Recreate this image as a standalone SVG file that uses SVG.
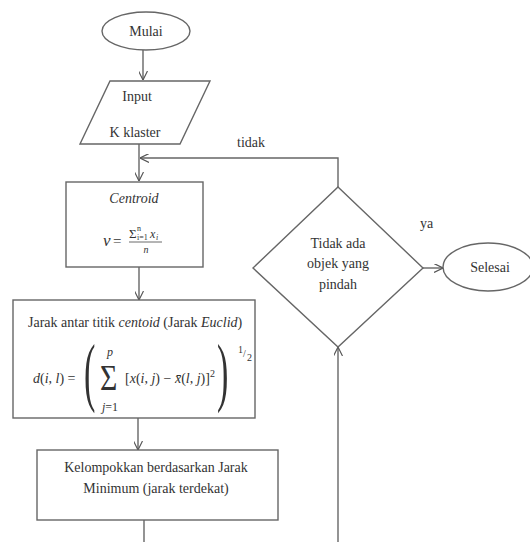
<svg xmlns="http://www.w3.org/2000/svg" width="530" height="542" viewBox="0 0 530 542">
<defs>
<marker id="arr" viewBox="0 0 10 10" refX="10" refY="5" markerWidth="9" markerHeight="9" orient="auto" markerUnits="userSpaceOnUse">
<path d="M0,0 L10,5 L0,10" fill="none" stroke="#555" stroke-width="1.3"/>
</marker>
<style>
.s{fill:#fff;stroke:#666;stroke-width:1.4}
.c{fill:none;stroke:#666;stroke-width:1.4}
.m{text-anchor:middle}
.i{font-style:italic}
</style>
</defs>
<rect width="530" height="542" fill="#fff"/>
<g font-family="'Liberation Serif', Tinos, 'Times New Roman', 'DejaVu Serif', serif" fill="#333">
<g id="connectors">
<line class="c" x1="143" y1="50" x2="143" y2="80" marker-end="url(#arr)"/>
<line class="c" x1="139" y1="144" x2="139" y2="181" marker-end="url(#arr)"/>
<line class="c" x1="139" y1="267" x2="139" y2="300" marker-end="url(#arr)"/>
<line class="c" x1="138" y1="418" x2="138" y2="450" marker-end="url(#arr)"/>
<line class="c" x1="144" y1="520" x2="144" y2="542"/>
<polyline class="c" points="338,187 338,158 140,158" marker-end="url(#arr)"/>
<line class="c" x1="338" y1="542" x2="338" y2="347" marker-end="url(#arr)"/>
<line class="c" x1="423" y1="268" x2="443" y2="268" marker-end="url(#arr)"/>
<text x="237" y="147" font-size="14">tidak</text>
<text x="420" y="228" font-size="14">ya</text>
</g>
<g id="mulai">
<ellipse class="s" cx="146" cy="31" rx="44" ry="19"/>
<text class="m" x="146" y="36" font-size="14">Mulai</text>
</g>
<g id="input">
<polygon class="s" points="110,81 210,81 180,144 80,144"/>
<text class="m" x="137" y="101" font-size="14">Input</text>
<text class="m" x="135" y="137" font-size="14">K klaster</text>
</g>
<g id="centroid">
<rect class="s" x="66" y="182" width="137" height="85"/>
<text class="m i" x="134" y="203" font-size="14">Centroid</text>
<text class="i" x="103" y="246" font-size="17">v</text>
<text x="113" y="246" font-size="15">=</text>
<text x="129" y="238" font-size="13">Σ</text>
<text x="137" y="231" font-size="8">n</text>
<text x="137" y="240" font-size="8">i=1</text>
<text class="i" x="150" y="238" font-size="12">x</text>
<text class="i" x="156" y="240" font-size="8">i</text>
<line x1="129" y1="242" x2="162" y2="242" stroke="#444" stroke-width="0.8"/>
<text class="i m" x="146" y="253" font-size="10">n</text>
</g>
<g id="jarak">
<rect class="s" x="13" y="300" width="242" height="118"/>
<text x="28" y="327" font-size="14">Jarak antar titik <tspan class="i">centoid</tspan> (Jarak <tspan class="i">Euclid</tspan>)</text>
<text x="33" y="383" font-size="14"><tspan class="i">d</tspan>(<tspan class="i">i</tspan>, <tspan class="i">l</tspan>) =</text>
<text transform="translate(84,397) scale(0.45,1)" font-size="76">(</text>
<text transform="translate(100,390) scale(0.85,1)" font-size="35">Σ</text>
<text class="i" x="107" y="356" font-size="12">p</text>
<text class="i" x="102" y="411" font-size="12">j<tspan font-style="normal">=1</tspan></text>
<text x="125" y="383" font-size="14">[<tspan class="i">x</tspan>(<tspan class="i">i</tspan>, <tspan class="i">j</tspan>) −  <tspan class="i">x̄</tspan>(<tspan class="i">l</tspan>, <tspan class="i">j</tspan>)]<tspan font-size="10" dy="-6">2</tspan></text>
<text transform="translate(217,397) scale(0.45,1)" font-size="76">)</text>
<text x="238" y="353" font-size="10">1</text>
<text x="243" y="357" font-size="10">/</text>
<text x="247" y="361" font-size="10">2</text>
</g>
<g id="kelompok">
<rect class="s" x="37" y="450" width="241" height="70"/>
<text class="m" x="156" y="472" font-size="14">Kelompokkan berdasarkan Jarak</text>
<text class="m" x="156" y="493" font-size="14">Minimum (jarak terdekat)</text>
</g>
<g id="decision">
<polygon class="s" points="338,187 423,268 338,347 253,268"/>
<text class="m" x="338" y="248" font-size="14">Tidak ada</text>
<text class="m" x="338" y="268" font-size="14">objek yang</text>
<text class="m" x="338" y="289" font-size="14">pindah</text>
</g>
<g id="selesai">
<ellipse class="s" cx="488" cy="267" rx="45" ry="24"/>
<text class="m" x="490" y="272" font-size="14">Selesai</text>
</g>
</g>
</svg>
